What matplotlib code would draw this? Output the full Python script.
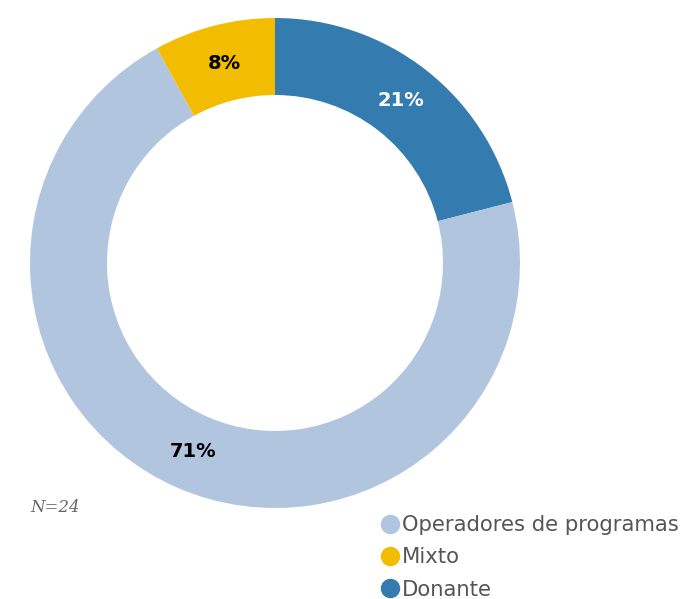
import matplotlib
matplotlib.use("Agg")
import matplotlib.pyplot as plt
from matplotlib.lines import Line2D

# Data (N=24)
categories = ["Donante", "Operadores de programas", "Mixto"]
values = [21, 71, 8]
colors = ["#347BB0", "#B1C5DF", "#F2BD00"]
label_colors = ["white", "black", "black"]
legend_order = ["Operadores de programas", "Mixto", "Donante"]
note = "N=24"

W, H = 686, 599
fig = plt.figure(figsize=(W / 100, H / 100), dpi=100)
ax = fig.add_axes([0, 0, 1, 1])

wedges, texts, autotexts = ax.pie(
    values, colors=colors, startangle=90, counterclock=False,
    center=(275, H - 263), radius=245, pctdistance=0.84,
    autopct=lambda p: f"{p:.0f}%",
    wedgeprops=dict(width=77, linewidth=0),
    textprops=dict(fontsize=14, fontweight="bold"),
)
for t, c in zip(autotexts, label_colors):
    t.set_color(c)

# pie() resets the limits, so fix them afterwards
ax.set_xlim(0, W)
ax.set_ylim(0, H)
ax.set_aspect("equal")
ax.axis("off")

ax.text(30, H - 508, note, fontsize=12, family="DejaVu Serif", style="italic",
        color="#666666", ha="left", va="center")

color_of = dict(zip(categories, colors))
handles = [Line2D([], [], marker="o", linestyle="none", markersize=14,
                  markerfacecolor=color_of[c], markeredgewidth=0)
           for c in legend_order]
leg = ax.legend(handles, legend_order, loc="lower right",
                bbox_to_anchor=(1.008, -0.022), frameon=False, fontsize=15.2,
                handletextpad=0.08, handlelength=1.0, labelspacing=0.58,
                borderaxespad=0.2)
for t in leg.get_texts():
    t.set_color("#555555")

fig.savefig("out.png", dpi=100)
